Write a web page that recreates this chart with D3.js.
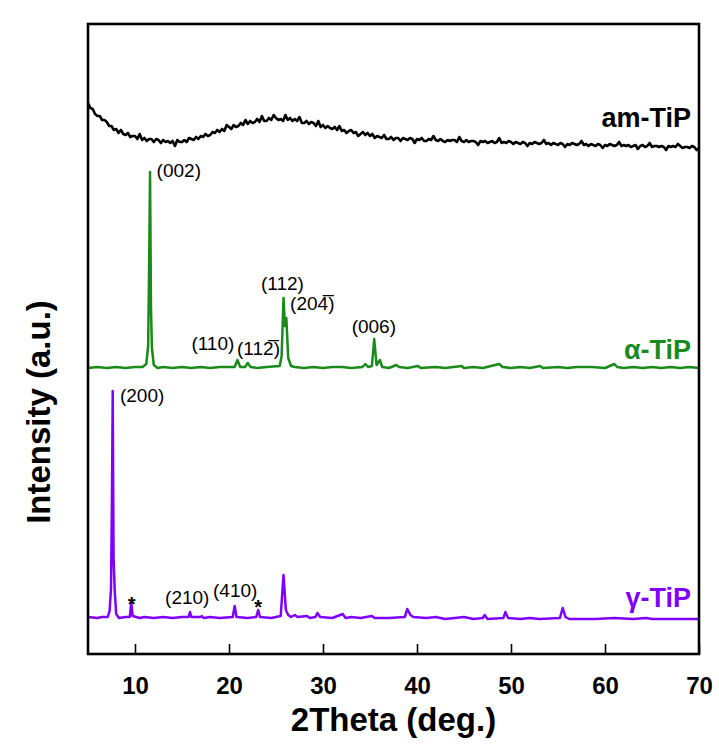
<!DOCTYPE html>
<html>
<head>
<meta charset="UTF-8">
<script src="https://cdn.jsdelivr.net/npm/d3@7"></script>
<style>
body{
    margin:0;
    background-color:#fff;
    font-family:"Liberation Sans", Arial, sans-serif;
}
.axis path{ display:none; }
.axis line{ stroke:#000; stroke-width:1.6; }
.ticklabel{ font-family:"Liberation Sans",Arial,sans-serif; font-weight:bold; }
</style>
</head>
<body>
<script>

// x ticks
var xTicks = [10,20,30,40,50,60,70];

// vertical offsets of the three stacked patterns (a.u.)
var offsets = [500, 286, 36];
var names = ["am-TiP", "\u03b1-TiP", "\u03b3-TiP"];
var colors = ["#000000", "#1a8a1a", "#8000ff"];

// am-TiP, sampled every 0.25 deg from 5 deg
var amStart = 5, amStep = 0.25;
var amCounts = [
 51,46,45,40, 38,38,34,34, 32,28,28,24, 25,21,24,20, 19,21,17,18,
 18,15,20,14, 16,13,15,15, 12,15,14,11, 14,12,13,11, 13,8,14,12,
 12,14,12,16, 15,14,17,15, 18,17,20,18, 19,22,21,24, 22,25,23,29,
 27,25,29,27, 28,31,29,34, 30,33,31,32, 35,32,38,33, 33,36,34,39,
 36,34,35,33, 39,34,36,33, 35,33,37,31, 31,33,30,32, 31,28,33,27,
 29,26,28,26, 25,27,24,28, 23,24,21,23, 24,21,22,18, 20,22,19,21,
 18,20,16,18, 17,16,19,15, 15,17,14,16, 16,13,16,15, 14,16,15,11,
 15,14,16,13, 13,15,14,18, 14,13,15,13, 12,14,13,14, 14,12,17,13,
 12,14,12,13, 13,12,9,13, 12,13,11,12, 13,11,12,16, 11,12,11,13,
 12,10,12,11, 10,12,11,8, 11,10,12,11, 10,11,14,10, 11,9,11,10,
 9,11,10,7, 10,9,11,10, 9,10,13,9, 10,8,10,9, 8,10,9,6,
 9,8,10,9, 8,9,12,8, 9,8,9,7, 8,9,5,8, 9,7,8,11,
 7,8,8,7, 8,7,4,8, 7,8,7,10, 8,6,7,7, 6,8,7,4,
 6
];

// alpha-TiP [2theta, counts]
var alphaPts = [
 [5,0],[6,1],[7,0],[8,1],[9,0],[10,1],[10.8,1],[11.2,4],[11.4,22],[11.5,100],[11.6,196],[11.7,60],[11.8,20],[12.0,3],[12.4,0],
 [13,1],[14,0],[15,1],[16,0],[17,1],[18,0],[19,1],[20.6,1],[20.9,8],[21.2,1],[21.7,1],[22.0,5],[22.3,1],[23,0],[24,1],
 [25.4,2],[25.6,12],[25.8,70],[25.95,42],[26.1,50],[26.3,10],[26.6,2],[27,1],[28,0],[29,1],[30,0],[31,1],[32,1],[33,0],
 [34.2,1],[34.5,4],[34.8,1],[35.2,2],[35.45,29],[35.7,3],[36.05,8],[36.3,1],[37,0],[37.8,3],[38.1,1],[39,0],[40.1,2],[40.4,0],
 [42,1],[43,0],[44.75,2],[45,0],[46,1],[47,0],[48.75,4],[49.1,1],[50,0],[51,1],[52,0],[53.1,2],[53.4,0],[55,1],[56,0],
 [57,1],[58.6,1],[60,0],[61.0,4],[61.3,1],[62,0],[63,1],[64,0],[65,1],[66,0],[67,1],[68,0],[69,1],[70,0]
];

// gamma-TiP [2theta, counts]
var gammaPts = [
 [5,1],[6,0],[6.5,1],[7.1,1],[7.3,7],[7.45,30],[7.55,120],[7.63,227],[7.72,60],[7.85,26],[8.0,4],[8.3,0],[9.0,1],[9.45,1],
 [9.6,16],[9.75,2],[10.5,0],[11,1],[12,0],[13,1],[14,0],[15,1],[15.7,1],[15.85,6],[16.0,1],[17.0,1],[17.1,2],[17.3,0],
 [18,1],[19,0],[20.4,1],[20.6,12],[20.8,1],[22,0],[22.9,1],[23.1,8],[23.3,1],[24.5,0],[25.5,2],[25.8,43],[26.05,8],[26.3,3],
 [26.6,1],[27.0,3],[27.3,1],[28.3,2],[28.6,0],[29.2,1],[29.4,5],[29.7,1],[31,0],[32.1,4],[32.4,0],[33,1],[34,0],[35.2,2],
 [35.5,0],[37,0],[38.7,1],[38.97,9],[39.3,3],[39.6,1],[41,0],[42,1],[43,-1],[44,0],[45,1],[46,-1],[47.0,0],[47.2,3],[47.5,-1],
 [49.2,0],[49.4,6],[49.7,0],[51,-1],[52,0],[53,-1],[55.2,0],[55.5,10],[55.8,1],[56.2,-1],[58,-1],[59,-1],[61,0],[63,-1],
 [64.4,0],[65,-1],[67,-1],[70,-1]
];

// peak labels: [text, 2theta, counts above that series' offset, series, barred digit]
var peakLabels = [
 ["(002)", 12.3, 191, 1],
 ["(110)", 16.0, 18, 1],
 ["(11", 20.85, 13, 1, "2"],
 ["(112)", 23.4, 78, 1],
 ["(20", 26.5, 58, 1, "4"],
 ["(006)", 33.05, 35, 1],
 ["(200)", 8.4, 216, 2],
 ["(210)", 13.2, 14, 2],
 ["(410)", 18.3, 21, 2]
];
var stars = [[9.65, 19], [23.1, 16]];

var W = 719, H = 751;
var x = d3.scaleLinear().domain([5,70]).range([88,699]);
var y = d3.scaleLinear().domain([0,630]).range([654,24]);

var svg = d3.select("body").append("svg")
    .attr("width", W)
    .attr("height", H);

var line = d3.line()
    .x(function(d){ return x(d[0]); })
    .y(function(d){ return y(d[1]); });

var amData = amCounts.map(function(c,i){ return [amStart + i*amStep, c + offsets[0]]; });
var alphaData = alphaPts.map(function(d){ return [d[0], d[1] + offsets[1]]; });
var gammaData = gammaPts.map(function(d){ return [d[0], d[1] + offsets[2]]; });
var series = [amData, alphaData, gammaData];

svg.selectAll(".trace")
    .data(series)
    .enter().append("path")
    .attr("class","trace")
    .attr("d", line)
    .attr("fill","none")
    .attr("stroke", function(d,i){ return colors[i]; })
    .attr("stroke-width", function(d,i){ return i==0 ? 2.6 : 2.5; })
    .attr("stroke-linejoin","round");

// frame
svg.append("rect")
    .attr("x", x(5)).attr("y", y(630))
    .attr("width", x(70)-x(5)).attr("height", y(0)-y(630))
    .attr("fill","none").attr("stroke","#000").attr("stroke-width",2.6);

var gX = svg.append("g")
    .attr("class","axis")
    .attr("transform","translate(0," + y(0) + ")")
    .call(d3.axisBottom(x).tickValues(xTicks).tickSizeInner(-10).tickSizeOuter(0).tickFormat(d3.format("d")));
gX.selectAll("text")
    .attr("class","ticklabel")
    .attr("y", 23).attr("dy","0.71em")
    .attr("font-size", 24)
    .attr("fill","#000");

// axis titles
svg.append("text")
    .attr("x", (x(5)+x(70))/2)
    .attr("y", 731)
    .attr("text-anchor","middle")
    .attr("font-size", 33)
    .attr("font-weight","bold")
    .text("2Theta (deg.)");

svg.append("text")
    .attr("transform","translate(50,412) rotate(-90)")
    .attr("text-anchor","middle")
    .attr("font-size", 33)
    .attr("font-weight","bold")
    .text("Intensity (a.u.)");

// series names
var nameY = [127, 359, 607];
svg.selectAll(".sname")
    .data(names)
    .enter().append("text")
    .attr("class","sname")
    .attr("x", 691)
    .attr("y", function(d,i){ return nameY[i]; })
    .attr("text-anchor","end")
    .attr("font-size", 27)
    .attr("font-weight","bold")
    .attr("fill", function(d,i){ return colors[i]; })
    .text(function(d){ return d; });

// peak labels
var pl = svg.selectAll(".plabel")
    .data(peakLabels)
    .enter().append("text")
    .attr("class","plabel")
    .attr("x", function(d){ return x(d[1]); })
    .attr("y", function(d){ return y(d[2] + offsets[d[3]]); })
    .attr("font-size", 19)
    .attr("fill","#000");
pl.append("tspan").text(function(d){ return d[0]; });
pl.filter(function(d){ return d[4]; }).append("tspan")
    .text(function(d){ return d[4] + "\u0305"; });
pl.filter(function(d){ return d[4]; }).append("tspan").text(")");

svg.selectAll(".star")
    .data(stars)
    .enter().append("text")
    .attr("class","star")
    .attr("x", function(d){ return x(d[0]); })
    .attr("y", function(d){ return y(d[1] + offsets[2]) + 12; })
    .attr("text-anchor","middle")
    .attr("font-size", 20)
    .attr("font-weight","bold")
    .text("*");

</script>
</body>
</html>
